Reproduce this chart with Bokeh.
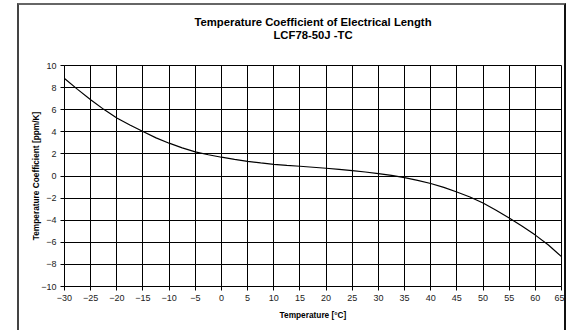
from bokeh.plotting import figure
from bokeh.models import Range1d, FixedTicker, Title
from bokeh.embed import file_html
from bokeh.resources import INLINE

temperature = [-30, -27.5, -25, -22.5, -20, -17.5, -15, -12.5, -10, -7.5, -5, -2.5,
               0, 2.5, 5, 7.5, 10, 12.5, 15, 17.5, 20, 22.5, 25, 27.5, 30, 32.5,
               35, 37.5, 40, 42.5, 45, 47.5, 50, 52.5, 55, 57.5, 60, 62.5, 65]
tc_ppm = [8.83, 7.84, 6.9, 6.03, 5.25, 4.62, 4.02, 3.45, 2.97, 2.55, 2.18, 1.92,
          1.7, 1.5, 1.32, 1.18, 1.06, 0.96, 0.88, 0.79, 0.7, 0.6, 0.48, 0.36, 0.22, 0.05,
          -0.15, -0.39, -0.68, -1.03, -1.45, -1.9, -2.45, -3.1, -3.8, -4.55, -5.35, -6.25, -7.3]
x_ticks = list(range(-30, 70, 5))
y_ticks = list(range(-10, 12, 2))

title_line1 = "Temperature Coefficient of Electrical Length"
title_line2 = "LCF78-50J -TC"
x_label = "Temperature [°C]"
y_label = "Temperature Coefficient [ppm/K]"

FONT = "Liberation Sans"

p = figure(width=549, height=330, output_backend="svg", toolbar_location=None,
           x_range=Range1d(-30, 65), y_range=Range1d(-10, 10),
           min_border_left=45, min_border_right=7, min_border_top=60, min_border_bottom=49,
           margin=(3, 0, 0, 17),
           styles={"border-left": "2px solid #444444", "border-top": "2px solid #666666",
                   "border-right": "2px solid #111111"})
p.title = None
spacer = Title(text="\u00a0", align="center", text_font=FONT, text_font_size="11.3px",
               standoff=11)
t2 = Title(text=title_line2, align="center", text_font=FONT, text_font_size="11.3px",
           text_font_style="bold", text_color="#000000", standoff=0)
t1 = Title(text=title_line1, align="center", text_font=FONT, text_font_size="11.3px",
           text_font_style="bold", text_color="#000000", standoff=-2)
p.add_layout(spacer, "above")
p.add_layout(t2, "above")
p.add_layout(t1, "above")

p.line(temperature, tc_ppm, line_color="black", line_width=1.2)

p.outline_line_color = "black"
p.outline_line_width = 1
for g, ticks in ((p.xgrid[0], x_ticks), (p.ygrid[0], y_ticks)):
    g.grid_line_color = "black"
    g.grid_line_alpha = 1.0
    g.grid_line_width = 1
    g.ticker = FixedTicker(ticks=ticks)

p.xaxis.ticker = FixedTicker(ticks=x_ticks)
p.yaxis.ticker = FixedTicker(ticks=y_ticks)
for ax in (p.xaxis[0], p.yaxis[0]):
    ax.axis_line_color = "black"
    ax.major_tick_line_color = "black"
    ax.major_tick_out = 4
    ax.major_tick_in = 0
    ax.minor_tick_line_color = None
    ax.major_label_text_font = FONT
    ax.major_label_text_font_size = "9px"
    ax.major_label_text_color = "#222222"
    ax.axis_label_text_font = FONT
    ax.axis_label_text_font_size = "8.3px"
    ax.axis_label_text_font_style = "bold"
    ax.axis_label_text_color = "#000000"
p.xaxis.axis_label = x_label
p.yaxis.axis_label = y_label
p.xaxis.major_label_standoff = 4
p.yaxis.major_label_standoff = 4
p.xaxis.axis_label_standoff = 6
p.yaxis.axis_label_standoff = -3

open("out.html", "w").write(file_html(p, INLINE))
